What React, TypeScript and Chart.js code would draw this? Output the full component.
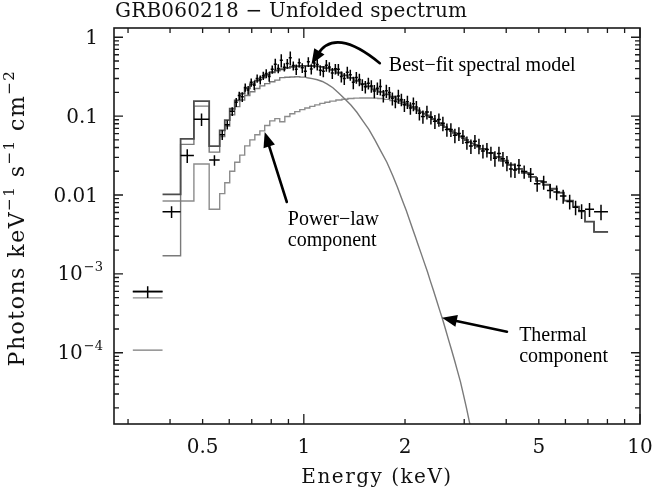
import { useEffect, useRef } from "react";
import { Chart, registerables } from "chart.js";

Chart.register(...registerables);

// model channel edges (keV), shared by the three model curves
const modelEdges = [
  0.310, 0.380, 0.430, 0.471, 0.523,
  0.562, 0.582, 0.602, 0.623, 0.645, 0.667, 0.691, 0.715, 0.740, 0.765, 0.792, 0.820, 0.848, 0.878, 0.909, 0.940, 0.973, 1.007, 1.042, 1.078, 1.116, 1.155, 1.195,
  1.246, 1.298, 1.352, 1.409, 1.468, 1.529, 1.594, 1.660, 1.730, 1.803, 1.879,
  1.917, 1.957, 1.998, 2.039, 2.082, 2.125, 2.169, 2.214, 2.260, 2.307, 2.355, 2.404, 2.454, 2.505, 2.557, 2.611, 2.665, 2.720, 2.777, 2.835, 2.893, 2.953, 3.015, 3.078, 3.141, 3.206, 3.273, 3.341,
  3.504, 3.677, 3.858, 4.046, 4.246, 4.455, 4.673, 4.903, 5.144, 5.396, 5.662, 5.940,
  6.319, 6.585, 6.861, 7.298, 8.035,
];

const totalModel = [
  5.97e-4, 0.0102, 0.0516, 0.155, 0.0417,
  0.066, 0.089, 0.124, 0.158, 0.193, 0.225, 0.254, 0.282, 0.307, 0.334, 0.360, 0.379, 0.393, 0.410, 0.421, 0.429, 0.433, 0.434, 0.432, 0.428, 0.420, 0.405,
  0.385, 0.355, 0.329, 0.305, 0.281, 0.257, 0.238, 0.219, 0.203, 0.189, 0.176,
  0.163, 0.156, 0.149, 0.143, 0.137, 0.131, 0.1246, 0.1184, 0.1127, 0.1073, 0.1025, 0.0976, 0.0920, 0.0868, 0.0817, 0.0770, 0.0725, 0.0683, 0.0647, 0.0613, 0.0583, 0.0552, 0.0525, 0.0498, 0.0472, 0.0451, 0.0431, 0.0411,
  0.0385, 0.0343, 0.0305, 0.0272, 0.0242, 0.0215, 0.0191, 0.0170, 0.0151, 0.0135, 0.0120, 0.0107,
  0.0085, 0.0071, 0.0062, 0.0046, 0.0034,
];

const powerLawModel = [
  4.97e-4, 0.0084, 0.0084, 0.0247, 0.0066,
  0.0104, 0.0143, 0.020, 0.026, 0.032, 0.042, 0.050, 0.058, 0.065, 0.076, 0.087, 0.093, 0.085, 0.099, 0.107, 0.114, 0.121, 0.127, 0.133, 0.139, 0.145, 0.150,
  0.155, 0.160, 0.164, 0.167, 0.169, 0.170, 0.170, 0.169, 0.167, 0.163, 0.158,
  0.1507, 0.1459, 0.1413, 0.1368, 0.1324, 0.1271, 0.1216, 0.1161, 0.1109, 0.1059, 0.1014, 0.0968, 0.0914, 0.0863, 0.0813, 0.0767, 0.0723, 0.0681, 0.0646, 0.0612, 0.0582, 0.0552, 0.0525, 0.0498, 0.0472, 0.0451, 0.0431, 0.0411,
  0.0385, 0.0343, 0.0305, 0.0272, 0.0242, 0.0215, 0.0191, 0.0170, 0.0151, 0.0135, 0.0120, 0.0107,
  0.0085, 0.0071, 0.0062, 0.0046, 0.0034,
];

const thermalModel = [
  1.08e-4, 0.0017, 0.0438, 0.134, 0.035,
  0.055, 0.075, 0.104, 0.132, 0.160, 0.183, 0.204, 0.224, 0.242, 0.258, 0.273, 0.286, 0.308, 0.311, 0.314, 0.315, 0.312, 0.307, 0.299, 0.289, 0.275, 0.255,
  0.229, 0.195, 0.165, 0.138, 0.112, 0.087, 0.068, 0.050, 0.036, 0.026, 0.0174,
  0.0126, 0.0100, 0.0079, 0.0063, 0.0049, 0.0038, 0.00295, 0.00229, 0.00178, 0.00138, 0.00107, 8.1e-4, 6.2e-4, 4.7e-4, 3.55e-4, 2.7e-4, 2.0e-4, 1.48e-4, 1.1e-4, 8.1e-5, 5.9e-5, 4.3e-5, 2.95e-5, 2.0e-5, 1.32e-5, 8.9e-6, 6.0e-6, 4.0e-6,
];
// above this channel the thermal curve is fine-binned, so it is drawn through channel centres
const THERMAL_SMOOTH_FROM = 22;

// data channels (keV)
const dataEdges = [
  0.310, 0.380, 0.430, 0.471, 0.523, 0.562, 0.582, 0.602, 0.623,
  0.636, 0.649, 0.663, 0.676, 0.690, 0.705, 0.719, 0.734, 0.750, 0.765, 0.781, 0.797, 0.814, 0.831, 0.848, 0.866, 0.884, 0.902, 0.921, 0.940, 0.959, 0.979,
  1.000, 1.021, 1.042, 1.063, 1.085, 1.108, 1.131, 1.155, 1.179, 1.203, 1.228, 1.254, 1.280, 1.306, 1.333, 1.361, 1.389, 1.418, 1.448, 1.478,
  1.508, 1.540, 1.572, 1.604, 1.638, 1.672, 1.706, 1.742, 1.778, 1.815, 1.853, 1.891, 1.931, 1.971, 2.012, 2.054, 2.096, 2.140, 2.184, 2.230,
  2.292, 2.356, 2.421, 2.488, 2.557, 2.628, 2.701, 2.776, 2.853, 2.933, 3.014, 3.098, 3.184, 3.273, 3.364, 3.457, 3.553, 3.652, 3.753, 3.858,
  3.965, 4.075, 4.188, 4.305, 4.424, 4.625, 4.836, 5.056, 5.286, 5.526, 5.778, 6.041, 6.318,
  6.55, 6.86, 7.30, 8.03,
];

const dataFlux = [
  5.97e-4, 0.00615, 0.0318, 0.0916, 0.0277,
  0.058, 0.078, 0.115, 0.150, 0.182, 0.176, 0.231, 0.214, 0.268, 0.247,
  0.301, 0.289, 0.326, 0.348, 0.318, 0.392, 0.455, 0.402, 0.512, 0.418,
  0.465, 0.548, 0.437, 0.392, 0.475, 0.410, 0.372, 0.488, 0.396, 0.470,
  0.452, 0.381, 0.371, 0.441, 0.420, 0.352, 0.398, 0.392, 0.318, 0.300,
  0.361, 0.334, 0.268, 0.309, 0.292, 0.251, 0.236, 0.262, 0.241, 0.208,
  0.226, 0.238, 0.182, 0.210, 0.199, 0.168, 0.154, 0.180, 0.163, 0.139,
  0.152, 0.127, 0.144, 0.131, 0.109,
  0.099, 0.113, 0.097, 0.086, 0.0905, 0.0812, 0.0676, 0.0679, 0.0573, 0.0603,
  0.0556, 0.0462, 0.0418, 0.0479, 0.0422, 0.0362, 0.0378, 0.0341, 0.0293, 0.0337,
  0.0289, 0.0256, 0.0214, 0.0208, 0.0236, 0.0199, 0.0183, 0.0139, 0.0146, 0.0114,
  0.0109, 0.0097, 0.0083, 0.0070, 0.0063, 0.0066, 0.00615,
];

const dataRelErr = [
  0.17, 0.17, 0.2, 0.18, 0.15,
  0.14, 0.13, 0.13, 0.13, 0.12, 0.14, 0.12, 0.13, 0.12, 0.13,
  0.12, 0.13, 0.12, 0.13, 0.14, 0.12, 0.17, 0.13, 0.19, 0.12,
  0.14, 0.2, 0.13, 0.15, 0.13, 0.14, 0.16, 0.14, 0.15, 0.14,
  0.16, 0.15, 0.16, 0.17, 0.15, 0.16, 0.15, 0.17, 0.16, 0.17,
  0.17, 0.16, 0.18, 0.17, 0.18, 0.17, 0.18, 0.17, 0.18, 0.19,
  0.18, 0.23, 0.18, 0.19, 0.18, 0.19, 0.18, 0.2, 0.18, 0.19,
  0.19, 0.18, 0.2, 0.19, 0.19,
  0.19, 0.2, 0.19, 0.2, 0.19, 0.21, 0.19, 0.2, 0.21, 0.2,
  0.2, 0.19, 0.21, 0.2, 0.22, 0.2, 0.21, 0.2, 0.22, 0.21,
  0.21, 0.22, 0.22, 0.21, 0.21, 0.19, 0.2, 0.21, 0.2, 0.21,
  0.21, 0.2, 0.21, 0.21, 0.21, 0.2, 0.22,
];

const xMinorTicks = [0.3, 0.4, 0.5, 0.6, 0.7, 0.8, 0.9, 2, 3, 4, 5, 6, 7, 8, 9];
const xMajorTicks = [1, 10];
const xTickLabels = [0.5, 1, 2, 5, 10];
const yDecades = [1, 0.1, 0.01, 1e-3, 1e-4, 1e-5];
const yMinorSteps = [2, 3, 4, 5, 6, 7, 8, 9];
const yTickLabels = [
  { value: 1, base: "1", exp: "" },
  { value: 0.1, base: "0.1", exp: "" },
  { value: 0.01, base: "0.01", exp: "" },
  { value: 1e-3, base: "10", exp: "−3" },
  { value: 1e-4, base: "10", exp: "−4" },
];

const X_MIN = 0.2725;
const X_MAX = 10;
const Y_MIN = 1.25e-5;
const Y_MAX = 1.31;

// annotations, anchored in data units
const notes = [
  { lines: ["Best−fit spectral model"], e: 1.79, f: 0.3745 },
  { lines: ["Power−law", "component"], e: 0.896, f: 0.00417 },
  { lines: ["Thermal", "component"], e: 4.37, f: 1.42e-4 },
];
const bestFitArrow = { from: [1.683, 0.469], ctrl: [1.237, 1.378], to: [1.054, 0.455] };
const straightArrows = [
  { from: [0.89, 0.00815], to: [0.765, 0.0627] },
  { from: [4.02, 1.85e-4], to: [2.576, 2.77e-4] },
];

const SERIF = '"DejaVu Serif", serif';
const TIMES = '"Liberation Serif", "Times New Roman", serif';

type Pt = { x: number; y: number | null };

// channel histogram; the first channel stands alone, channels from smoothFrom on
// are joined through their centres
function histogram(edges: number[], values: number[], smoothFrom = values.length): Pt[] {
  const pts: Pt[] = [];
  values.forEach((v, i) => {
    if (i < smoothFrom) pts.push({ x: edges[i], y: v }, { x: edges[i + 1], y: v });
    else pts.push({ x: Math.sqrt(edges[i] * edges[i + 1]), y: v });
    if (i === 0) pts.push({ x: edges[1], y: null });
  });
  return pts;
}

function crosses(): Pt[] {
  const pts: Pt[] = [];
  dataFlux.forEach((f, i) => {
    const lo = dataEdges[i];
    const hi = dataEdges[i + 1];
    const mid = Math.sqrt(lo * hi);
    const d = f * dataRelErr[i];
    pts.push({ x: lo, y: f }, { x: hi, y: f }, { x: hi, y: null });
    pts.push({ x: mid, y: f - d }, { x: mid, y: f + d }, { x: mid, y: null });
  });
  return pts;
}

function arrowHead(ctx: CanvasRenderingContext2D, fx: number, fy: number, tx: number, ty: number) {
  const a = Math.atan2(ty - fy, tx - fx);
  const len = 15;
  const half = 6;
  const bx = tx - len * Math.cos(a);
  const by = ty - len * Math.sin(a);
  ctx.beginPath();
  ctx.moveTo(tx, ty);
  ctx.lineTo(bx + half * Math.sin(a), by - half * Math.cos(a));
  ctx.lineTo(bx - half * Math.sin(a), by + half * Math.cos(a));
  ctx.closePath();
  ctx.fill();
}

const pgplotFrame = {
  id: "pgplotFrame",
  afterDraw(chart: any) {
    const { ctx, chartArea: a } = chart;
    const xs = chart.scales.x;
    const ys = chart.scales.y;
    const px = (e: number) => xs.getPixelForValue(e);
    const py = (f: number) => ys.getPixelForValue(f);
    ctx.save();

    ctx.strokeStyle = "#1a1a1a";
    ctx.fillStyle = "#111";
    ctx.lineWidth = 1.6;
    ctx.strokeRect(a.left, a.top, a.right - a.left, a.bottom - a.top);

    ctx.lineWidth = 1.3;
    ctx.beginPath();
    const xTick = (v: number, len: number) => {
      const p = px(v);
      ctx.moveTo(p, a.bottom);
      ctx.lineTo(p, a.bottom - len);
      ctx.moveTo(p, a.top);
      ctx.lineTo(p, a.top + len);
    };
    const yTick = (v: number, len: number) => {
      if (v < Y_MIN || v > Y_MAX) return;
      const p = py(v);
      ctx.moveTo(a.left, p);
      ctx.lineTo(a.left + len, p);
      ctx.moveTo(a.right, p);
      ctx.lineTo(a.right - len, p);
    };
    xMinorTicks.forEach((v) => xTick(v, 5));
    xMajorTicks.forEach((v) => xTick(v, 10));
    yDecades.forEach((d) => {
      yTick(d, 9);
      yMinorSteps.forEach((m) => yTick(d * m, 5));
    });
    ctx.stroke();

    // tick labels
    ctx.font = `20px ${SERIF}`;
    ctx.textAlign = "center";
    ctx.textBaseline = "alphabetic";
    xTickLabels.forEach((v) => ctx.fillText(String(v), px(v), a.bottom + 29));

    yTickLabels.forEach((t) => {
      const p = py(t.value);
      ctx.textAlign = "right";
      if (!t.exp) {
        ctx.font = `20px ${SERIF}`;
        ctx.fillText(t.base, a.left - 16, p + 7);
      } else {
        ctx.font = `13px ${SERIF}`;
        const w = ctx.measureText(t.exp).width;
        ctx.fillText(t.exp, a.left - 11, p - 3);
        ctx.font = `20px ${SERIF}`;
        ctx.fillText(t.base, a.left - 12 - w, p + 6);
      }
    });

    // titles
    ctx.textAlign = "left";
    ctx.font = `20px ${SERIF}`;
    ctx.letterSpacing = "0.2px";
    ctx.fillText("GRB060218 − Unfolded spectrum", a.left + 1, 17);
    ctx.textAlign = "center";
    ctx.letterSpacing = "1.5px";
    ctx.fillText("Energy (keV)", (a.left + a.right) / 2, 483);

    const parts: [string, boolean][] = [
      ["Photons keV", false], ["−1", true], [" s", false], ["−1", true], [" cm", false], ["−2", true],
    ];
    ctx.save();
    ctx.translate(24, 218);
    ctx.rotate(-Math.PI / 2);
    ctx.textAlign = "left";
    ctx.letterSpacing = "1.5px";
    const widths = parts.map(([s, sup]) => {
      ctx.font = sup ? `15px ${SERIF}` : `22px ${SERIF}`;
      return ctx.measureText(s).width;
    });
    let cx = -widths.reduce((s, w) => s + w, 0) / 2;
    parts.forEach(([s, sup], i) => {
      ctx.font = sup ? `15px ${SERIF}` : `22px ${SERIF}`;
      ctx.fillText(s, cx, sup ? -10 : 0);
      cx += widths[i];
    });
    ctx.restore();
    ctx.letterSpacing = "0px";

    // annotations
    ctx.fillStyle = "#000";
    ctx.strokeStyle = "#000";
    ctx.font = `20px ${TIMES}`;
    ctx.textAlign = "left";
    notes.forEach((n) => {
      n.lines.forEach((line, i) => ctx.fillText(line, px(n.e), py(n.f) + i * 21.5));
    });

    ctx.lineWidth = 2.6;
    ctx.lineCap = "round";
    const [f0, f1] = [px(bestFitArrow.from[0]), py(bestFitArrow.from[1])];
    const [c0, c1] = [px(bestFitArrow.ctrl[0]), py(bestFitArrow.ctrl[1])];
    const [t0, t1] = [px(bestFitArrow.to[0]), py(bestFitArrow.to[1])];
    ctx.beginPath();
    ctx.moveTo(f0, f1);
    ctx.quadraticCurveTo(c0, c1, t0 + (c0 - t0) * 0.25, t1 + (c1 - t1) * 0.25);
    ctx.stroke();
    arrowHead(ctx, c0, c1, t0, t1);

    straightArrows.forEach((ar) => {
      const sx = px(ar.from[0]);
      const sy = py(ar.from[1]);
      const ex = px(ar.to[0]);
      const ey = py(ar.to[1]);
      const L = Math.hypot(ex - sx, ey - sy);
      ctx.beginPath();
      ctx.moveTo(sx, sy);
      ctx.lineTo(ex - ((ex - sx) / L) * 10, ey - ((ey - sy) / L) * 10);
      ctx.stroke();
      arrowHead(ctx, sx, sy, ex, ey);
    });

    ctx.restore();
  },
};

export default function App() {
  const canvasRef = useRef<HTMLCanvasElement | null>(null);

  useEffect(() => {
    document.body.style.margin = "0";
    if (!canvasRef.current) return;

    const chart = new Chart(canvasRef.current, {
      type: "line",
      data: {
        datasets: [
          { label: "Data", data: crosses(), borderColor: "#000", borderWidth: 1.5, pointRadius: 0, spanGaps: false },
          { label: "Best-fit model", data: histogram(modelEdges, totalModel), borderColor: "#4d4d4d", borderWidth: 1.8, pointRadius: 0 },
          { label: "Thermal", data: histogram(modelEdges, thermalModel, THERMAL_SMOOTH_FROM), borderColor: "#7a7a7a", borderWidth: 1.4, pointRadius: 0 },
          { label: "Power law", data: histogram(modelEdges, powerLawModel), borderColor: "#8c8c8c", borderWidth: 1.4, pointRadius: 0 },
        ],
      },
      options: {
        animation: false,
        responsive: true,
        maintainAspectRatio: false,
        layout: { padding: { left: 0, right: 14, top: 28, bottom: 0 } },
        plugins: { legend: { display: false }, tooltip: { enabled: false } },
        elements: { line: { tension: 0 } },
        scales: {
          x: {
            type: "logarithmic",
            min: X_MIN,
            max: X_MAX,
            ticks: { display: false },
            grid: { display: false, drawTicks: false },
            border: { display: false },
            afterFit: (s: any) => { s.height = 65; },
          },
          y: {
            type: "logarithmic",
            min: Y_MIN,
            max: Y_MAX,
            ticks: { display: false },
            grid: { display: false, drawTicks: false },
            border: { display: false },
            afterFit: (s: any) => { s.width = 114; },
          },
        },
      },
      plugins: [pgplotFrame],
    });

    return () => chart.destroy();
  }, []);

  return (
    <div style={{ position: "relative", width: 654, height: 489, background: "#fff" }}>
      <canvas ref={canvasRef} />
    </div>
  );
}
